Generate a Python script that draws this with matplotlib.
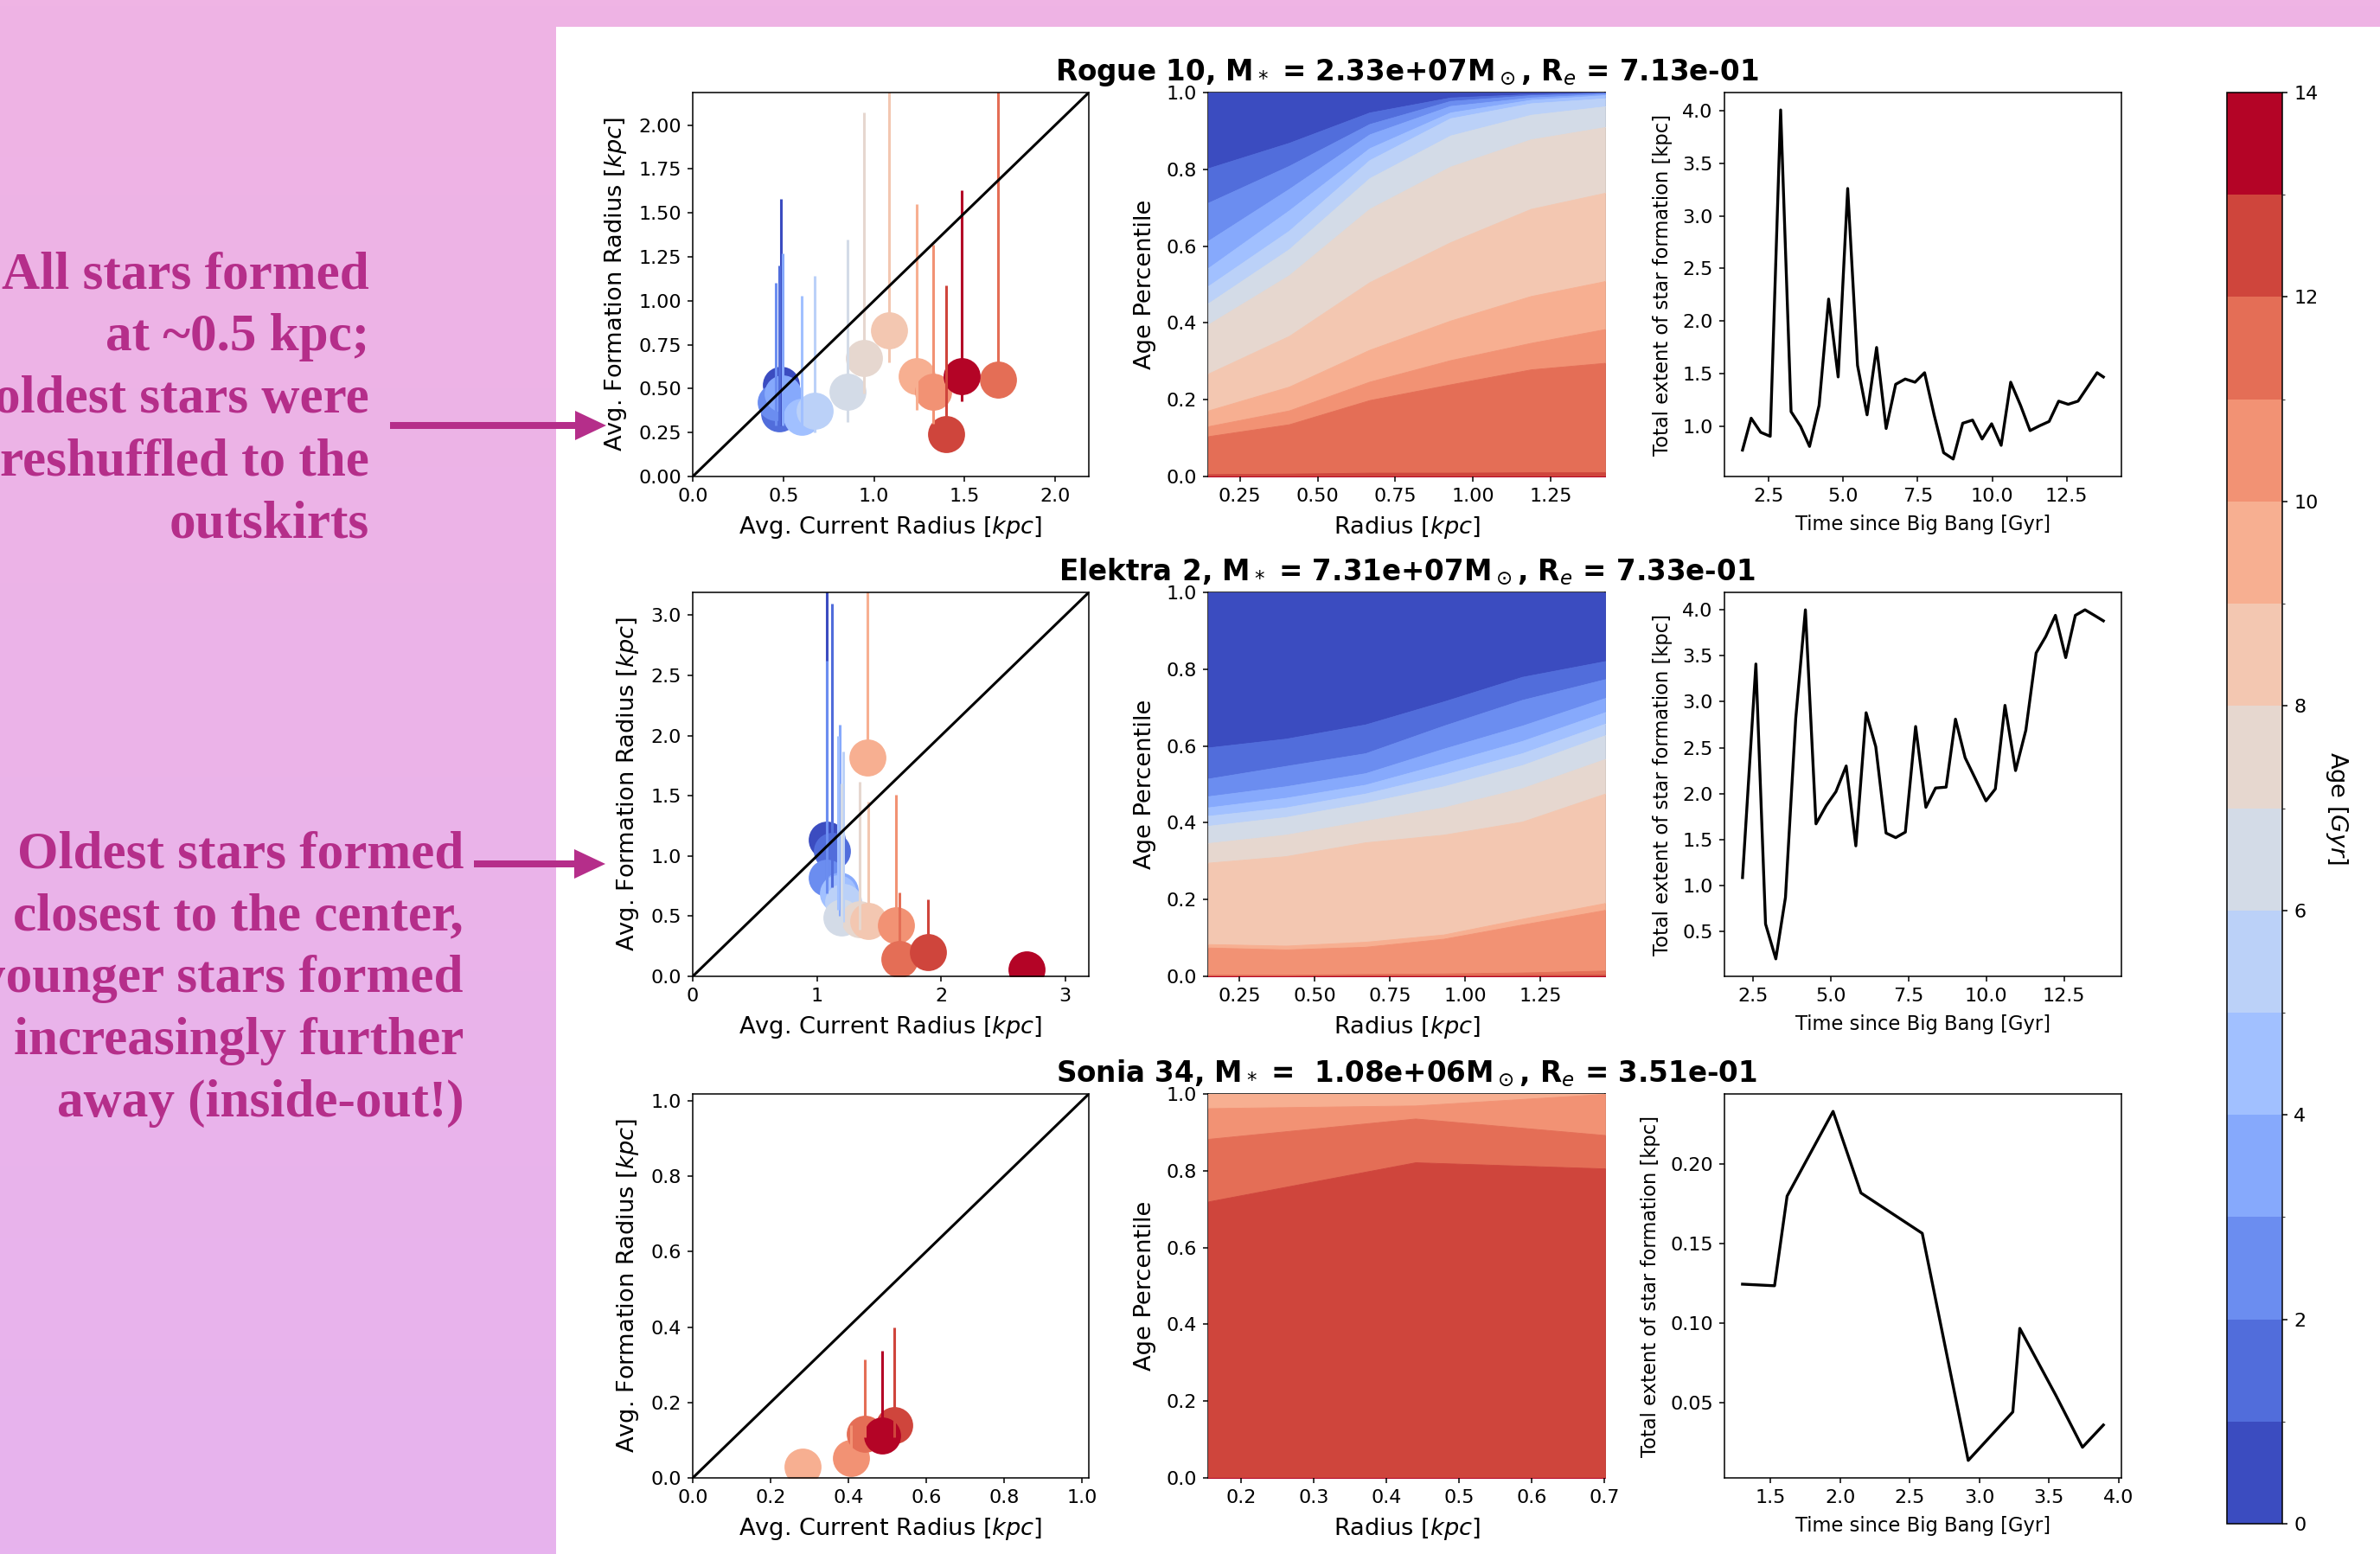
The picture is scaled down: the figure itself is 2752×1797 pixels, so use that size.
import numpy as np
import matplotlib.pyplot as plt
from matplotlib.colors import ListedColormap, BoundaryNorm
from matplotlib.cm import ScalarMappable
from matplotlib.patches import Rectangle, FancyArrow

W, H = 2752, 1797  # output size in pixels
DPI = 100

# ---------------- values ----------------
age_levels = np.arange(0, 15)  # colour levels [Gyr]
age_colors = plt.get_cmap('coolwarm')(np.linspace(0, 1, 14))  # one colour per 1 Gyr bin

titles = [r'Rogue 10, M$_*$ = 2.33e+07M$_\odot$, R$_e$ = 7.13e-01',
          r'Elektra 2, M$_*$ = 7.31e+07M$_\odot$, R$_e$ = 7.33e-01',
          r'Sonia 34, M$_*$ =  1.08e+06M$_\odot$, R$_e$ = 3.51e-01']

# Rogue 10 : current vs formation radius per age bin
r10_age = [0, 1, 2, 3, 4, 5, 6, 7, 8, 9, 10, 11, 12, 13]
r10_x = [0.489, 0.478, 0.457, 0.497, 0.600, 0.671, 0.854, 0.946, 1.084, 1.235, 1.325, 1.683, 1.397, 1.484]
r10_y = [0.522, 0.358, 0.424, 0.473, 0.342, 0.374, 0.481, 0.673, 0.834, 0.571, 0.481, 0.550, 0.240, 0.571]
r10_lo = [0.29, 0.29, 0.29, 0.29, 0.28, 0.25, 0.31, 0.47, 0.65, 0.38, 0.30, 0.45, 0.15, 0.43]
r10_hi = [1.58, 1.20, 1.10, 1.27, 1.03, 1.14, 1.35, 2.07, 2.40, 1.55, 1.32, 2.40, 1.09, 1.63]

# Elektra 2
e2_age = [0, 1, 2, 3, 4, 5, 6, 7, 8, 9, 10, 11, 12, 13]
e2_x = [1.080, 1.124, 1.080, 1.183, 1.170, 1.210, 1.200, 1.346, 1.415, 1.404, 1.636, 1.668, 1.893, 2.687]
e2_y = [1.137, 1.041, 0.821, 0.710, 0.690, 0.620, 0.486, 0.474, 0.457, 1.815, 0.426, 0.144, 0.199, 0.055]
e2_lo = [0.80, 0.74, 0.69, 0.50, 0.55, 0.45, 0.42, 0.39, 0.38, 1.80, 0.34, 0.10, 0.15, 0.05]
e2_hi = [3.40, 3.10, 2.62, 2.09, 2.00, 1.87, 1.60, 1.62, 1.45, 3.40, 1.51, 0.70, 0.64, 0.06]

# Sonia 34
s34_age = [9, 10, 11, 12, 13]
s34_x = [0.282, 0.406, 0.443, 0.519, 0.486]
s34_y = [0.030, 0.053, 0.118, 0.139, 0.112]
s34_lo = [0.030, 0.045, 0.107, 0.108, 0.100]
s34_hi = [0.030, 0.139, 0.313, 0.398, 0.336]

# age percentile at which the age crosses 1, 2, ... 13 Gyr, at each radius
r10_radius = [0.148, 0.408, 0.667, 0.927, 1.186, 1.425]
r10_edges = [[0.803, 0.869, 0.948, 0.987, 0.996, 0.999],
             [0.713, 0.809, 0.918, 0.978, 0.993, 0.999],
             [0.614, 0.749, 0.891, 0.965, 0.987, 0.996],
             [0.543, 0.693, 0.855, 0.948, 0.981, 0.993],
             [0.496, 0.640, 0.824, 0.933, 0.972, 0.985],
             [0.451, 0.592, 0.777, 0.888, 0.942, 0.964],
             [0.396, 0.524, 0.697, 0.807, 0.878, 0.910],
             [0.268, 0.366, 0.506, 0.610, 0.697, 0.739],
             [0.172, 0.234, 0.330, 0.406, 0.470, 0.509],
             [0.131, 0.172, 0.247, 0.303, 0.348, 0.384],
             [0.105, 0.136, 0.199, 0.240, 0.279, 0.296],
             [0.006, 0.0075, 0.010, 0.010, 0.011, 0.011],
             [0.0, 0.0, 0.0, 0.0, 0.0, 0.0]]

e2_radius = [0.145, 0.404, 0.668, 0.929, 1.190, 1.466]
e2_edges = [[0.596, 0.619, 0.656, 0.716, 0.780, 0.821],
            [0.515, 0.548, 0.581, 0.653, 0.720, 0.774],
            [0.469, 0.495, 0.529, 0.593, 0.653, 0.725],
            [0.440, 0.465, 0.499, 0.555, 0.613, 0.688],
            [0.418, 0.440, 0.476, 0.525, 0.581, 0.658],
            [0.392, 0.415, 0.452, 0.495, 0.550, 0.628],
            [0.347, 0.369, 0.405, 0.440, 0.490, 0.566],
            [0.296, 0.313, 0.349, 0.369, 0.403, 0.476],
            [0.084, 0.080, 0.090, 0.109, 0.150, 0.191],
            [0.075, 0.070, 0.077, 0.098, 0.135, 0.173],
            [0.004, 0.004, 0.006, 0.0075, 0.010, 0.015],
            [0.001, 0.001, 0.002, 0.002, 0.003, 0.004],
            [0.0, 0.0, 0.0, 0.0, 0.0, 0.0]]

s34_radius = [0.155, 0.440, 0.701]
s34_edges = [[1.0, 1.0, 1.0]] * 9 + [[0.963, 0.970, 1.0],
                                     [0.883, 0.936, 0.893],
                                     [0.720, 0.822, 0.806],
                                     [0.0, 0.0, 0.0]]

# total extent of star formation vs time
r10_t = [1.62, 1.91, 2.23, 2.55, 2.90, 3.25, 3.57, 3.87, 4.19, 4.51, 4.83, 5.15, 5.48, 5.80, 6.12, 6.44,
         6.76, 7.08, 7.41, 7.73, 8.05, 8.37, 8.69, 9.01, 9.34, 9.66, 9.98, 10.30, 10.62, 10.95, 11.27,
         11.59, 11.91, 12.23, 12.55, 12.88, 13.20, 13.52, 13.73]
r10_ext = [0.775, 1.078, 0.944, 0.906, 4.006, 1.14, 1.0, 0.81, 1.20, 2.21, 1.47, 3.26, 1.58, 1.11, 1.75, 0.98,
           1.40, 1.45, 1.42, 1.51, 1.11, 0.75, 0.69, 1.03, 1.06, 0.88, 1.025, 0.82, 1.42, 1.20, 0.96,
           1.006, 1.047, 1.24, 1.21, 1.24, 1.375, 1.51, 1.47]

e2_t = [2.17, 2.60, 2.91, 3.24, 3.55, 3.88, 4.19, 4.53, 4.86, 5.17, 5.50, 5.81, 6.14, 6.45, 6.78, 7.09,
        7.40, 7.73, 8.06, 8.37, 8.71, 9.01, 9.32, 9.65, 9.99, 10.29, 10.60, 10.94, 11.27, 11.60, 11.91,
        12.22, 12.55, 12.86, 13.17, 13.47, 13.76]
e2_ext = [1.085, 3.41, 0.58, 0.20, 0.87, 2.82, 4.00, 1.67, 1.87, 2.02, 2.30, 1.43, 2.88, 2.51, 1.57, 1.52,
          1.58, 2.73, 1.85, 2.06, 2.07, 2.81, 2.39, 2.16, 1.92, 2.05, 2.96, 2.25, 2.69, 3.53, 3.71,
          3.94, 3.48, 3.94, 4.00, 3.94, 3.88]

s34_t = [1.30, 1.53, 1.62, 1.95, 2.15, 2.59, 2.92, 3.24, 3.29, 3.55, 3.74, 3.89]
s34_ext = [0.1246, 0.1236, 0.180, 0.2333, 0.182, 0.1566, 0.0137, 0.0442, 0.0968, 0.0545, 0.022, 0.036]

note_1 = ['All stars formed', 'at ~0.5 kpc;', 'oldest stars were', 'reshuffled to the', 'outskirts']
note_2 = ['Oldest stars formed', 'closest to the center,', 'younger stars formed',
          'increasingly further', 'away (inside-out!)']

# ---------------- style ----------------
TICK_FS = 16
LABEL_FS = 19.6
LABEL_PAD = 8
NOTE_COLOR = '#B52E8A'
plt.rcParams['axes.linewidth'] = 1.1
plt.rcParams['xtick.major.width'] = 1.1
plt.rcParams['ytick.major.width'] = 1.1
plt.rcParams['xtick.major.size'] = 4.5
plt.rcParams['ytick.major.size'] = 4.5
plt.rcParams['xtick.major.pad'] = 5
plt.rcParams['ytick.major.pad'] = 5


def px_axes(fig, x0, y0, x1, y1):
    # add axes from pixel box (top-left origin)
    return fig.add_axes([x0 / W, 1 - y1 / H, (x1 - x0) / W, (y1 - y0) / H])


def radius_panel(ax, age, x, y, lo, hi, lim, xticks, yticks):
    for a, xx, yy in zip(age, x, y):
        ax.scatter(xx, yy, s=950, color=age_colors[a], lw=0, zorder=1)
    for a, xx, yy, l, h in zip(age, x, y, lo, hi):
        err = [[max(yy - l, 0)], [max(h - yy, 0)]]
        ax.errorbar(xx, yy, yerr=err, fmt='none', ecolor=age_colors[a], elinewidth=2.2, zorder=2)
    ax.plot([0, lim], [0, lim], color='k', lw=2.2, zorder=3)
    ax.set_xlim(0, lim)
    ax.set_ylim(0, lim)
    ax.set_xticks(xticks)
    ax.set_yticks(yticks)
    ax.set_xlabel('Avg. Current Radius [$kpc$]', fontsize=LABEL_FS, labelpad=LABEL_PAD)
    ax.set_ylabel('Avg. Formation Radius [$kpc$]', fontsize=LABEL_FS, labelpad=LABEL_PAD)
    ax.tick_params(labelsize=TICK_FS)


def percentile_panel(ax, radius, edges, xticks, title):
    bounds = [np.ones(len(radius))] + [np.array(e) for e in edges] + [np.zeros(len(radius))]
    for k in range(14):  # band k holds ages k..k+1 Gyr
        ax.fill_between(radius, bounds[k + 1], bounds[k], color=age_colors[k], lw=0.6, zorder=1)
    ax.set_xlim(radius[0], radius[-1])
    ax.set_ylim(0, 1)
    ax.set_xticks(xticks)
    ax.set_yticks(np.arange(0, 1.01, 0.2))
    ax.set_xlabel('Radius [$kpc$]', fontsize=LABEL_FS, labelpad=LABEL_PAD)
    ax.set_ylabel('Age Percentile', fontsize=LABEL_FS, labelpad=LABEL_PAD)
    ax.tick_params(labelsize=TICK_FS)
    for s in ax.spines.values():
        s.set_zorder(0.5)
    ax.set_title(title, fontsize=23.5, fontweight='bold', pad=10)


def extent_panel(ax, t, ext, xticks, yticks):
    ax.plot(t, ext, color='k', lw=2.4)
    ax.set_xticks(xticks)
    ax.set_yticks(yticks)
    ax.set_xlabel('Time since Big Bang [Gyr]', fontsize=16.3, labelpad=LABEL_PAD)
    ax.set_ylabel('Total extent of star formation [kpc]', fontsize=16.3, labelpad=LABEL_PAD)
    ax.tick_params(labelsize=TICK_FS)


fig = plt.figure(figsize=(W / DPI, H / DPI), dpi=DPI)

# background: pink side panel, white plotting area, notes and arrows (pixel coords)
bg = fig.add_axes([0, 0, 1, 1])
bg.set_xlim(0, W)
bg.set_ylim(H, 0)
bg.axis('off')
grad = np.linspace(0, 1, 256)[:, None, None]
top_c = np.array([239, 180, 228]) / 255
bot_c = np.array([231, 179, 238]) / 255
bg.imshow(top_c * (1 - grad) + bot_c * grad, extent=[0, W, H, 0], aspect='auto')
bg.add_patch(Rectangle((643, 31), W - 643, H - 31, color='white', lw=0))
for i, line in enumerate(note_1):
    bg.text(427, 333 + 72 * i, line, ha='right', va='baseline', fontsize=44, color=NOTE_COLOR,
            family='Liberation Serif', fontweight='bold')
for i, line in enumerate(note_2):
    bg.text(536, 1003 + 72 * i, line, ha='right', va='baseline', fontsize=44, color=NOTE_COLOR,
            family='Liberation Serif', fontweight='bold')
bg.add_patch(FancyArrow(451, 492, 250, 0, width=8, head_width=34, head_length=36,
                        length_includes_head=True, color=NOTE_COLOR, lw=0))
bg.add_patch(FancyArrow(548, 999, 152, 0, width=8, head_width=34, head_length=36,
                        length_includes_head=True, color=NOTE_COLOR, lw=0))

rows = [(107, 551), (685, 1129), (1265, 1709)]
cols = [(801, 1259), (1397, 1856), (1994, 2453)]
ax = [[px_axes(fig, c0, r0, c1, r1) for (c0, c1) in cols] for (r0, r1) in rows]

radius_panel(ax[0][0], r10_age, r10_x, r10_y, r10_lo, r10_hi, 2.185,
             np.arange(0, 2.01, 0.5), np.arange(0, 2.01, 0.25))
radius_panel(ax[1][0], e2_age, e2_x, e2_y, e2_lo, e2_hi, 3.19,
             [0, 1, 2, 3], np.arange(0, 3.01, 0.5))
radius_panel(ax[2][0], s34_age, s34_x, s34_y, s34_lo, s34_hi, 1.018,
             np.arange(0, 1.01, 0.2), np.arange(0, 1.01, 0.2))

percentile_panel(ax[0][1], r10_radius, r10_edges, [0.25, 0.5, 0.75, 1.0, 1.25], titles[0])
percentile_panel(ax[1][1], e2_radius, e2_edges, [0.25, 0.5, 0.75, 1.0, 1.25], titles[1])
percentile_panel(ax[2][1], s34_radius, s34_edges, [0.2, 0.3, 0.4, 0.5, 0.6, 0.7], titles[2])

extent_panel(ax[0][2], r10_t, r10_ext, [2.5, 5.0, 7.5, 10.0, 12.5], np.arange(1.0, 4.01, 0.5))
extent_panel(ax[1][2], e2_t, e2_ext, [2.5, 5.0, 7.5, 10.0, 12.5], np.arange(0.5, 4.01, 0.5))
extent_panel(ax[2][2], s34_t, s34_ext, [1.5, 2.0, 2.5, 3.0, 3.5, 4.0], [0.05, 0.10, 0.15, 0.20])

# shared age colour bar
cax = px_axes(fig, 2575, 107, 2639, 1762)
sm = ScalarMappable(norm=BoundaryNorm(age_levels, 14), cmap=ListedColormap(age_colors))
cbar = fig.colorbar(sm, cax=cax, ticks=np.arange(0, 15, 2))
cbar.ax.tick_params(labelsize=TICK_FS)
cbar.set_label('Age [$Gyr$]', rotation=270, fontsize=LABEL_FS, labelpad=26)

fig.savefig('out.png', dpi=DPI)
